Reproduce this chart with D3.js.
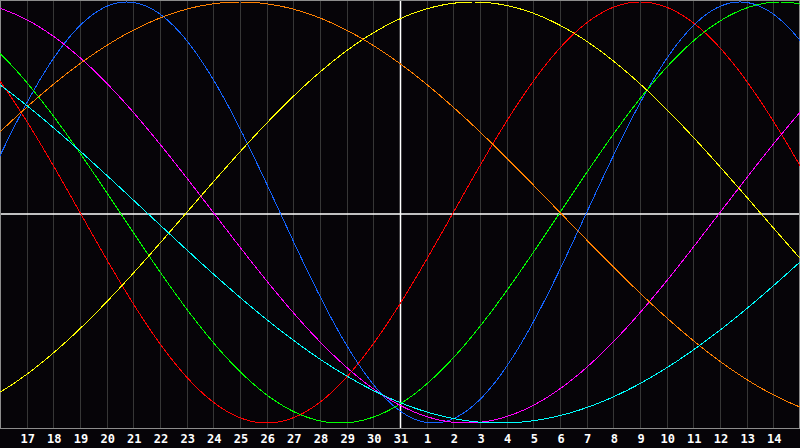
<!DOCTYPE html>
<html lang="en">
<head>
  <meta charset="UTF-8">
  <title>Biorhythm</title>
  <style>
    html, body {
      margin: 0;
      padding: 0;
      background: #060408;
    }
    svg {
      display: block;
    }
    .day-label {
      font-family: "DejaVu Sans Mono", monospace;
      font-weight: bold;
      font-size: 12px;
      fill: #ffffff;
    }
  </style>
</head>
<body>
<div id="chart"></div>
<script src="https://d3js.org/d3.v7.js"></script>
<script type="text/javascript">

  // day labels under the grid lines (column 1 .. 29)
  var dayLabels = [17, 18, 19, 20, 21, 22, 23, 24, 25, 26, 27, 28, 29, 30, 31,
                   1, 2, 3, 4, 5, 6, 7, 8, 9, 10, 11, 12, 13, 14];

  // cycles: names, lengths in days, colours
  var cycleNames = ["physical", "emotional", "intellectual", "intuitive", "aesthetic", "awareness", "spiritual"];
  var cycleDays = [23, 28, 33, 38, 43, 48, 53];
  var cycleColors = ["#1464ff", "#ff0000", "#00ff00", "#ff00ff", "#ffff00", "#ff8000", "#00ffff"];

  // days lived at the left edge of the chart
  var daysAtStart = 30867;
  var todayIndex = 15;   // column of the white "today" line (31)
  var totalDays = 30;

  //Width and height
  var w = 800;
  var h = 448;
  var plotBottom = 428;

  var svg = d3.select("#chart")
          .append("svg")
          .attr("width", w)
          .attr("height", h);

  svg.append("rect")
          .attr("width", w)
          .attr("height", h)
          .attr("fill", "#060408");

  // scales
  const xScale = d3.scaleLinear()
          .domain([0, totalDays])
          .range([0, w]);

  const yScale = d3.scaleLinear()
          .domain([-1, 1])
          .range([423, 2]);

  // vertical day grid
  svg.append("g")
          .selectAll("line")
          .data(d3.range(1, totalDays))
          .enter()
          .append("line")
          .attr("x1", d => Math.round(xScale(d)) + 0.5)
          .attr("x2", d => Math.round(xScale(d)) + 0.5)
          .attr("y1", 0)
          .attr("y2", plotBottom)
          .attr("stroke", "#363636")
          .attr("stroke-width", 1)
          .attr("shape-rendering", "crispEdges");

  // today line and zero line
  svg.append("line")
          .attr("x1", xScale(todayIndex) + 0.5)
          .attr("x2", xScale(todayIndex) + 0.5)
          .attr("y1", 0)
          .attr("y2", plotBottom)
          .attr("stroke", "#ffffff")
          .attr("stroke-width", 1.5);

  svg.append("line")
          .attr("x1", 0)
          .attr("x2", w)
          .attr("y1", Math.round(yScale(0)) + 1)
          .attr("y2", Math.round(yScale(0)) + 1)
          .attr("stroke", "#ffffff")
          .attr("stroke-width", 1.5);

  // border of the plot
  svg.append("rect")
          .attr("x", 0.5)
          .attr("y", 0.5)
          .attr("width", w - 1)
          .attr("height", plotBottom)
          .attr("fill", "none")
          .attr("stroke", "#8c8c8c")
          .attr("stroke-width", 1)
          .attr("shape-rendering", "crispEdges");

  // curves
  var steps = d3.range(0, totalDays + 0.001, 0.05);
  var line = d3.line()
          .x(d => xScale(d[0]))
          .y(d => yScale(d[1]));

  cycleDays.forEach(function(period, i) {
    var pts = steps.map(t => [t, Math.sin(2 * Math.PI * (daysAtStart + t) / period)]);
    svg.append("path")
            .datum(pts)
            .attr("class", "cycle " + cycleNames[i])
            .attr("d", line)
            .attr("fill", "none")
            .attr("stroke", cycleColors[i])
            .attr("stroke-width", 1)
            .attr("shape-rendering", "crispEdges");
  });

  // day labels
  svg.append("g")
          .selectAll("text")
          .data(dayLabels)
          .enter()
          .append("text")
          .attr("class", "day-label")
          .attr("x", (d, i) => xScale(i + 1) + 1)
          .attr("y", 443)
          .attr("text-anchor", "middle")
          .text(d => d);

</script>
</body>
</html>
